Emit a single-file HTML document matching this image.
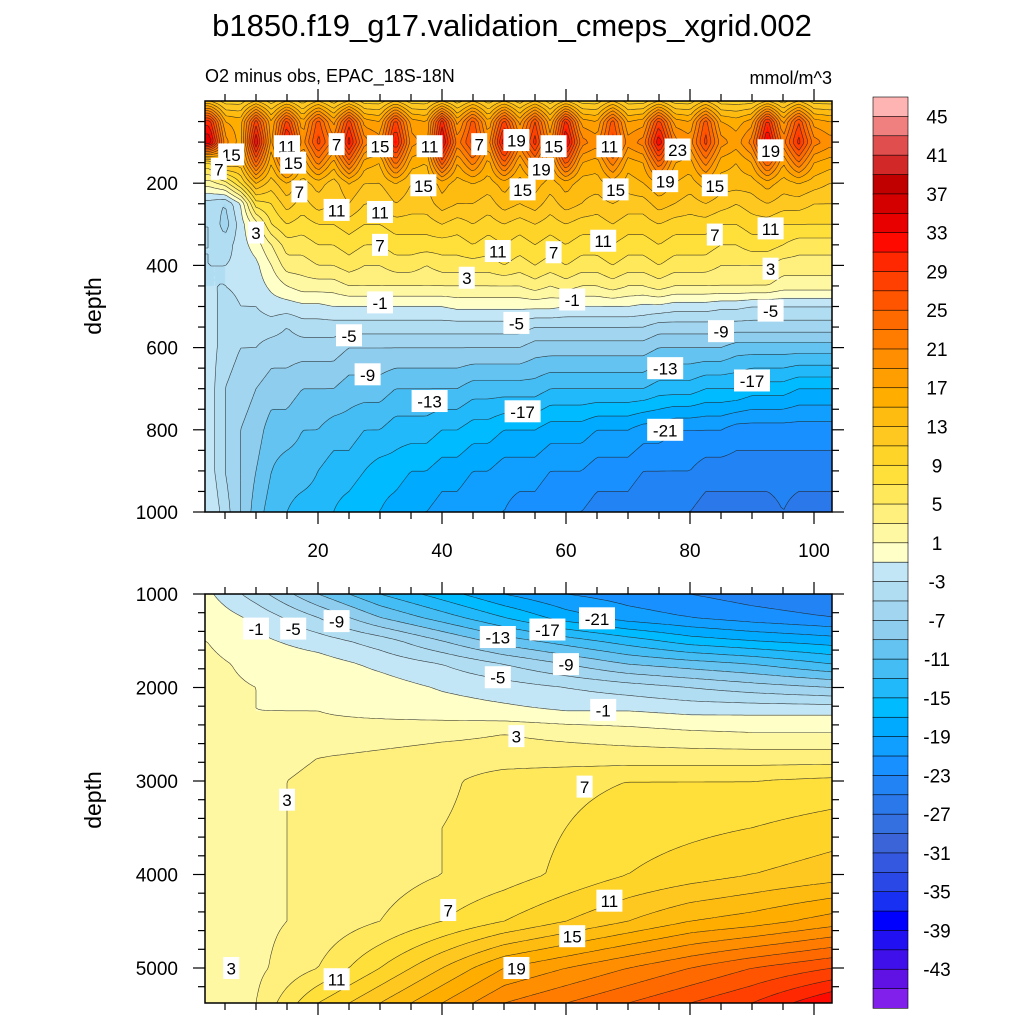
<!DOCTYPE html>
<html><head><meta charset="utf-8">
<style>
html,body{margin:0;padding:0;background:#fff;}
#wrap{position:relative;width:1024px;height:1024px;overflow:hidden;font-family:"Liberation Sans",sans-serif;}
canvas{position:absolute;}
svg{position:absolute;left:0;top:0;}
</style></head>
<body>
<div id="wrap">
<canvas id="cTop" style="left:205px;top:101px" width="627" height="411"></canvas>
<canvas id="cBot" style="left:205px;top:594px" width="627" height="409"></canvas>
<svg id="svg" width="1024" height="1024">
<text x="512" y="36" text-anchor="middle" font-size="31">b1850.f19_g17.validation_cmeps_xgrid.002</text>
<text x="205" y="82" font-size="18">O2 minus obs, EPAC_18S-18N</text>
<text x="832" y="84" font-size="18" text-anchor="end">mmol/m^3</text>
<text transform="translate(101,306) rotate(-90)" text-anchor="middle" font-size="23">depth</text>
<text transform="translate(101,800) rotate(-90)" text-anchor="middle" font-size="23">depth</text>
</svg>
</div>
<script>
// ---- data ----
const levels = [-45,-43,-41,-39,-37,-35,-33,-31,-29,-27,-25,-23,-21,-19,-17,-15,-13,-11,-9,-7,-5,-3,-1,1,3,5,7,9,11,13,15,17,19,21,23,25,27,29,31,33,35,37,39,41,43,45];
const colorsTopDown = ["#ffb4b4","#f08080","#e04e4e","#d22828","#c00000","#d40000","#e80000","#ff0a00","#ff2800","#ff4000","#ff5500","#ff6a00","#ff7c00","#ff8e00","#ff9e00","#ffae00","#ffbc10","#ffc820","#ffd428","#ffdf3a","#ffe85a","#fff07e","#fff8a2","#ffffc8","#c2e6f6","#b0ddf2","#a2d6f0","#8ecdee","#64c3f0","#44bdf4","#22b9fa","#00bbff","#00aaff","#109fff","#1890ff","#2284f4","#2a78ea","#3470e0","#3a64d8","#3458e0","#2a48e6","#1830f2","#0000ff","#2010f2","#4010ea","#6012e4","#8020ea"];
const cbLabels = [45,41,37,33,29,25,21,17,13,9,5,1,-3,-7,-11,-15,-19,-23,-27,-31,-35,-39,-43];
const topXTicks = [20,40,60,80,100];
const topYTicks = [200,400,600,800,1000];
const botYTicks = [1000,2000,3000,4000,5000];

const topX = [2.5,5,7.5,10,12.5,15,17.5,20,22.5,25,27.5,30,32.5,35,37.5,40,42.5,45,47.5,50,52.5,55,57.5,60,62.5,65,67.5,70,72.5,75,77.5,80,82.5,85,87.5,90,92.5,95,97.5,100,102.5];
const topD = [0,50,100,150,200,250,300,350,400,450,500,550,600,700,800,900,1000];
const topV = [
[13,10,10,13,10,13,10,13,10,13,10,10,13,10,10,13,10,13,10,13,10,13,10,13,10,10,13,10,10,13,10,10,13,10,10,10,13,10,13,10,10],
[30,17,16,28,17,28,17,26,18,28,18,17,28,18,17,30,18,26,17,28,18,27,17,30,18,17,26,17,18,28,18,17,26,17,16,18,30,18,27,18,17],
[35,20,16,33,18,33,20,28,22,32,22,20,32,20,18,34,22,28,20,33,22,30,20,34,22,20,28,20,22,33,22,20,28,20,18,22,34,22,30,22,20],
[9,15,14,25,15,24,15,22,16,24,16,15,24,16,15,26,17,22,16,25,17,23,16,26,17,16,22,16,17,25,17,16,22,16,15,17,25,17,23,17,16],
[2,4,9,15,12,15,12,14,12,15,13,13,15,13,13,16,14,15,14,16,14,16,14,16,14,14,16,14,15,17,15,14,16,14,14,14,16,14,15,14,13],
[-4,-5,-1,8,9,12,10,12,11,13,11,11,13,12,12,14,13,13,12,14,13,14,12,14,13,12,13,12,12,14,13,12,13,12,11,12,13,12,12,11,11],
[-3,-6,-2,2,7,9,8,9,9,10,9,9,10,10,10,11,10,11,10,11,10,11,10,11,10,10,11,10,10,11,10,10,10,9,9,10,10,9,9,9,9],
[-3,-4,-2,0,3,6,6,7,7,8,7,7,8,8,8,8,8,9,8,9,8,9,8,9,8,8,9,8,8,9,8,8,8,7,7,8,8,7,6,6,6],
[-3,-3,-2.5,-1.5,1,4,4,5,5,6,5,5,6,6,5,6,6,6,6,7,6,7,6,7,6,6,7,6,6,7,6,6,6,5,5,5,5,4,4,4,4],
[-3,-3,-2.5,-2,-0.5,1,2,2,2,3,3,3,3,3,3,3,3,3,3,3,3,4,3,4,3,3,4,3,3,4,3,3,3,3,3,3,3,2,2,2,2],
[-2,-4,-3,-3,-2,-2,-1.5,-1.5,-1,-1,-1,-1,-1,-1,-1,-1,-0.5,-0.5,-0.5,-0.5,-0.5,-0.5,-0.5,-1,-1,-1,-1,-1,-1.5,-1.5,-2,-2,-2,-2.5,-2.5,-3,-3,-3,-3,-3,-3],
[-2,-4,-4,-4,-4,-5,-4,-4,-4,-4,-4,-4,-4,-4,-4,-4,-4,-4,-4,-4,-4,-5,-5,-5,-5,-5,-5,-5,-5,-6,-6,-6,-6,-6,-6,-6,-6,-6,-6,-6,-6],
[-2,-4,-5,-5,-6,-6,-6,-6,-6,-7,-7,-7,-7,-7,-7,-7,-7,-7,-7,-7,-7,-8,-8,-8,-8,-8,-8,-8,-8,-9,-9,-9,-9,-9,-10,-10,-10,-10,-10,-10,-10],
[-2,-5,-6,-7,-8,-8,-9,-9,-9,-10,-10,-10,-11,-11,-11,-11,-11,-12,-12,-12,-12,-12,-13,-13,-13,-13,-13,-13,-13,-14,-14,-14,-15,-15,-15,-16,-16,-16,-17,-17,-17],
[-2,-5,-7,-8,-10,-10,-11,-11,-12,-12,-13,-13,-14,-14,-14,-15,-15,-16,-16,-17,-17,-17,-18,-18,-18,-19,-19,-19,-20,-20,-21,-21,-21,-21,-22,-22,-22,-22,-22,-22,-22],
[-2,-5,-7,-9,-11,-12,-12,-13,-14,-14,-15,-16,-16,-17,-17,-18,-18,-19,-19,-20,-20,-20,-21,-21,-21,-22,-22,-22,-23,-23,-23,-23,-24,-24,-24,-24,-24,-24,-24,-24,-24],
[-1,-4,-7,-10,-12,-13,-14,-14,-15,-16,-17,-17,-18,-19,-19,-20,-20,-21,-21,-21,-22,-22,-23,-23,-23,-24,-24,-24,-25,-25,-25,-25,-26,-26,-26,-26,-26,-25,-26,-26,-26]
];
const botX = [2,10,20,30,40,50,60,70,80,90,103];
const botD = [1000,1250,1500,1750,2000,2250,2500,2750,3000,3500,4000,4500,5000,5375];
const botV = [
[-0.5,-4,-9,-13,-16,-19,-21,-22,-23,-24,-25],
[0.5,-1.5,-5,-9,-12,-15,-18,-20,-21,-22,-23],
[1,-0.5,-2,-4,-7,-10,-12,-14,-16,-17,-18],
[1.5,0.5,0,-1.5,-3,-5,-7,-9,-10,-11,-13],
[1.5,1,0.5,0,-1.2,-2,-3,-4,-5,-6,-7],
[1.5,1,1,0.5,0,-0.5,-1,-1,-1.5,-1.5,-1.5],
[1.5,1.5,1.5,2,2.5,3,2.5,2,1.5,1.2,1.2],
[1.5,2,3,3.5,4,4,4,4,4,4,4],
[1.5,2.5,3.5,4,4.5,6,6.5,7,7,7,7.5],
[1.5,2.5,3.5,4,5,6,7,8,8.5,9,10],
[1.5,2.5,3.5,4,5,6,7.5,9,10,11,12],
[1.5,2.5,3.5,5,7,9,11,13,15,16,18],
[1.5,2.5,5,9,13,17,19,21,23,25,27],
[1.5,3,9,13,17,21,23,25,27,29,33]
];
const topLabels = [[6,130,"15"],[15,110,"11"],[23,105,"7"],[30,110,"15"],[38,110,"11"],[46,105,"7"],[52,95,"19"],[58,110,"15"],[67,110,"11"],[78,118,"23"],[93,120,"19"],[4,165,"7"],[16,150,"15"],[56,165,"19"],[37,205,"15"],[53,215,"15"],[68,215,"15"],[76,195,"19"],[84,205,"15"],[17,220,"7"],[23,265,"11"],[30,270,"11"],[10,320,"3"],[30,350,"7"],[49,365,"11"],[58,368,"7"],[66,340,"11"],[84,325,"7"],[93,310,"11"],[93,408,"3"],[44,430,"3"],[30,490,"-1"],[61,483,"-1"],[52,540,"-5"],[93,510,"-5"],[25,570,"-5"],[85,560,"-9"],[28,665,"-9"],[76,650,"-13"],[90,680,"-17"],[38,730,"-13"],[53,755,"-17"],[76,800,"-21"]];
const botLabels = [[10,1370,"-1"],[16,1370,"-5"],[23,1290,"-9"],[65,1260,"-21"],[57,1380,"-17"],[49,1460,"-13"],[60,1750,"-9"],[49,1890,"-5"],[66,2240,"-1"],[52,2520,"3"],[63,3060,"7"],[15,3200,"3"],[41,4380,"7"],[67,4280,"11"],[61,4660,"15"],[52,5000,"19"],[23,5120,"11"],[6,5000,"3"]];

// ---- scales ----
const PL=205, PR=832;
function xs(v){return 318+(v-20)*6.2;}
function xInv(p){return (p-318)/6.2+20;}
function yTop(d){return 101+d*0.411;}
function yTopInv(p){return (p-101)/0.411;}
function yBot(d){return 594+(d-1000)*0.0935;}
function yBotInv(p){return (p-594)/0.0935+1000;}

function find(arr,v){let i=0;while(i<arr.length-2&&v>arr[i+1])i++;let t=(v-arr[i])/(arr[i+1]-arr[i]);t=Math.max(0,Math.min(1,t));return [i,t];}
function interp(X,D,V,x,d){const [i,tx]=find(X,x);const [j,ty]=find(D,d);
 const a=V[j][i],b=V[j][i+1],c=V[j+1][i],e=V[j+1][i+1];
 return (a*(1-tx)+b*tx)*(1-ty)+(c*(1-tx)+e*tx)*ty;}
const colorsBottomUp=colorsTopDown.slice().reverse();
function colorFor(v){let b=0;while(b<levels.length&&levels[b]<v)b++;return colorsBottomUp[b];}
function hexRGB(h){return [parseInt(h.substr(1,2),16),parseInt(h.substr(3,2),16),parseInt(h.substr(5,2),16)];}

const NS="http://www.w3.org/2000/svg";
const svg=document.getElementById('svg');
function mk(tag,attrs,parent){const e=document.createElementNS(NS,tag);for(const k in attrs)e.setAttribute(k,attrs[k]);(parent||svg).appendChild(e);return e;}

function panel(canvasId,X,D,V,yInv,top,bottom,name){
 const cv=document.getElementById(canvasId);const ctx=cv.getContext('2d');
 const W=cv.width,H=cv.height;const img=ctx.createImageData(W,H);
 for(let py=0;py<H;py++){const d=yInv(top+py+0.5);
  for(let px=0;px<W;px++){const v=interp(X,D,V,xInv(PL+px+0.5),d);const c=hexRGB(colorFor(v));const o=(py*W+px)*4;
   img.data[o]=c[0];img.data[o+1]=c[1];img.data[o+2]=c[2];img.data[o+3]=255;}}
 ctx.putImageData(img,0,0);
 const s=3;const nx=Math.ceil(W/s)+1,ny=Math.ceil(H/s)+1;const g=[];
 for(let j=0;j<ny;j++){g.push([]);const d=yInv(top+Math.min(j*s,H));for(let i=0;i<nx;i++)g[j].push(interp(X,D,V,xInv(PL+Math.min(i*s,W)),d));}
 const grp=mk('g',{stroke:'#222','stroke-width':'0.6','stroke-opacity':'0.85',fill:'none'});
 
 
 levels.forEach(L=>{let p='';
  for(let j=0;j<ny-1;j++)for(let i=0;i<nx-1;i++){
   const x0=PL+Math.min(i*s,W),x1=PL+Math.min((i+1)*s,W),y0=top+Math.min(j*s,H),y1=top+Math.min((j+1)*s,H);
   const a=g[j][i],b=g[j][i+1],c=g[j+1][i+1],dd=g[j+1][i];
   const pts=[];
   if((a<L)!=(b<L))pts.push([x0+(L-a)/(b-a)*(x1-x0),y0]);
   if((b<L)!=(c<L))pts.push([x1,y0+(L-b)/(c-b)*(y1-y0)]);
   if((dd<L)!=(c<L))pts.push([x0+(L-dd)/(c-dd)*(x1-x0),y1]);
   if((a<L)!=(dd<L))pts.push([x0,y0+(L-a)/(dd-a)*(y1-y0)]);
   if(pts.length>=2)p+='M'+pts[0][0].toFixed(1)+' '+pts[0][1].toFixed(1)+'L'+pts[1][0].toFixed(1)+' '+pts[1][1].toFixed(1);
   if(pts.length==4)p+='M'+pts[2][0].toFixed(1)+' '+pts[2][1].toFixed(1)+'L'+pts[3][0].toFixed(1)+' '+pts[3][1].toFixed(1);
  }
  if(p){const pe=mk('path',{d:p},grp);}
 });
 const fr=mk('rect',{x:PL,y:top,width:PR-PL,height:bottom-top,fill:'none',stroke:'#000','stroke-width':'1.5'});
 
 
}
panel('cTop',topX,topD,topV,yTopInv,101,512,'upper-panel');
panel('cBot',botX,botD,botV,yBotInv,594,1003,'lower-panel');

function addLabels(list,yf,name){list.forEach(l=>{const x=xs(l[0]),y=yf(l[1]);const w=l[2].length*10+6;
 const r=mk('rect',{x:x-w/2,y:y-11,width:w,height:22,fill:'#fff'});
 
 
 const t=mk('text',{x:x,y:y+6.5,'text-anchor':'middle','font-size':'17'});t.textContent=l[2];
 
 });}
addLabels(topLabels,yTop,'upper');
addLabels(botLabels,yBot,'lower');

const tg=mk('g',{stroke:'#000','stroke-width':'1.2'});


function tick(x1,y1,x2,y2){mk('line',{x1,y1,x2,y2},tg);}
[[101,512],[594,1003]].forEach(([t,b])=>{
 for(let v=5;v<=100;v+=5){const x=xs(v);const L=v%20==0?12:7;tick(x,t,x,t-L);tick(x,b,x,b+L);}
});
for(let d=50;d<=1000;d+=50){const y=yTop(d);const L=d%200==0?12:7;tick(PL,y,PL-L,y);tick(PR,y,PR+L,y);}
for(let d=1000;d<=5200;d+=200){const y=yBot(d);const L=d%1000==0?12:7;tick(PL,y,PL-L,y);tick(PR,y,PR+L,y);}
topXTicks.forEach(v=>{const t=mk('text',{x:xs(v),y:557,'text-anchor':'middle','font-size':'19'});t.textContent=v;
 
 });
topYTicks.forEach(v=>{const t=mk('text',{x:178,y:yTop(v)+7,'text-anchor':'end','font-size':'19'});t.textContent=v;
 
 });
botYTicks.forEach(v=>{const t=mk('text',{x:178,y:yBot(v)+7,'text-anchor':'end','font-size':'19'});t.textContent=v;
 
 });

const cbTop=97,cbBot=1008,cbX=873,cbW=35;const bh=(cbBot-cbTop)/colorsTopDown.length;
const cb=mk('g',{});


colorsTopDown.forEach((c,i)=>{const r=mk('rect',{x:cbX,y:cbTop+i*bh,width:cbW,height:bh+0.3,fill:c,stroke:'#000','stroke-width':'0.6'},cb);
 
 });
cbLabels.forEach((v,k)=>{const j=1+2*k;const t=mk('text',{x:937,y:cbTop+j*bh+7,'text-anchor':'middle','font-size':'19'},cb);t.textContent=v;
 
 });
</script>
</body></html>
